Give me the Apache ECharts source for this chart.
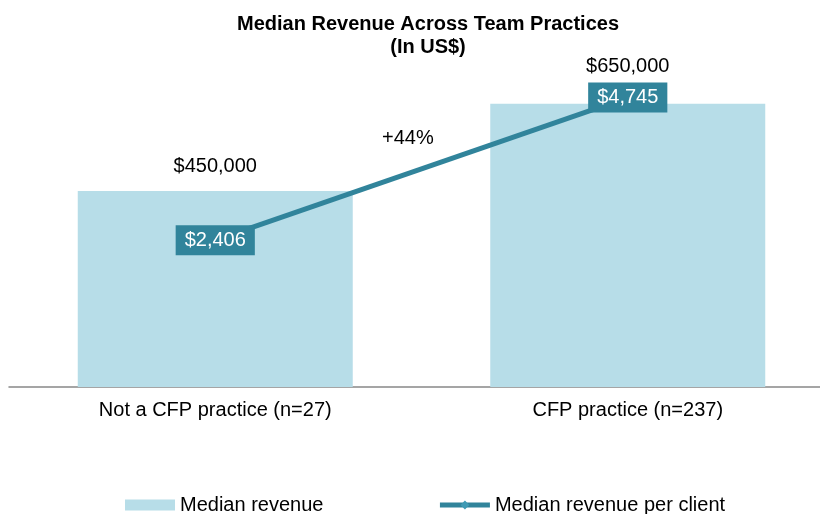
<!DOCTYPE html>
<html>
<head>
<meta charset="utf-8">
<script src="https://cdn.jsdelivr.net/npm/echarts@6/dist/echarts.min.js"></script>
<style>
  html, body { margin: 0; padding: 0; background: #fff; }
  #chart { width: 820px; height: 514px; }
</style>
</head>
<body>
<div id="chart"></div>
<script>
// data
const categories = ['Not a CFP practice (n=27)', 'CFP practice (n=237)'];
const medianRevenue = [450000, 650000];
const revenuePerClient = [2406, 4745];
const changeLabel = '+44%';

const barColor = '#b7dde8';
const lineColor = '#31849b';
const font = '"Liberation Sans", Arial, sans-serif';

const fmt = v => '$' + v.toLocaleString('en-US');

let chart = echarts.init(document.getElementById('chart'));
chart.setOption({
  animation: false,
  textStyle: { fontFamily: font },
  title: {
    text: 'Median Revenue Across Team Practices\n(In US$)',
    left: 423,
    textAlign: 'center',
    top: 8,
    textStyle: { fontSize: 20, fontWeight: 'bold', color: '#000', lineHeight: 23, fontFamily: font }
  },
  legend: {
    left: 125,
    top: 495,
    padding: 0,
    itemWidth: 50,
    itemHeight: 11,
    itemGap: 114,
    textStyle: { fontSize: 20, color: '#000', fontFamily: font },
    data: [
      { name: 'Median revenue', icon: 'rect' },
      {
        name: 'Median revenue per client',
        lineStyle: { width: 5, color: lineColor },
        itemStyle: { color: '#3f9ab4' }
      }
    ]
  },
  grid: { left: 9, top: 82, width: 825, height: 305, outerBoundsMode: 'none', containLabel: false },
  xAxis: {
    type: 'category',
    data: categories,
    axisLine: { lineStyle: { color: '#888', width: 1.5 } },
    axisTick: { show: false },
    axisLabel: { fontSize: 20, color: '#000', margin: 13, fontFamily: font }
  },
  yAxis: [
    { type: 'value', min: 0, max: 700000, show: false, splitLine: { show: false } },
    { type: 'value', min: 0, max: 5000, show: false, splitLine: { show: false } }
  ],
  graphic: [{
    type: 'text',
    left: 382,
    top: 128,
    style: { text: changeLabel, fontSize: 20, fill: '#000', fontFamily: font }
  }],
  series: [
    {
      name: 'Median revenue',
      type: 'bar',
      barWidth: 275,
      itemStyle: { color: barColor },
      label: {
        show: true,
        position: 'top',
        fontSize: 20,
        color: '#000',
        formatter: p => fmt(p.value)
      },
      data: medianRevenue.map((v, i) => ({ value: v, label: { distance: i === 0 ? 14 : 27 } }))
    },
    {
      name: 'Median revenue per client',
      type: 'line',
      yAxisIndex: 1,
      symbol: 'diamond',
      symbolSize: 10,
      color: lineColor,
      lineStyle: { color: lineColor, width: 5 },
      itemStyle: { color: lineColor },
      label: {
        show: true,
        position: 'inside',
        fontSize: 20,
        color: '#fff',
        backgroundColor: lineColor,
        padding: [5, 9, 5, 9],
        formatter: p => fmt(p.value)
      },
      data: revenuePerClient
    }
  ]
});
</script>
</body>
</html>
